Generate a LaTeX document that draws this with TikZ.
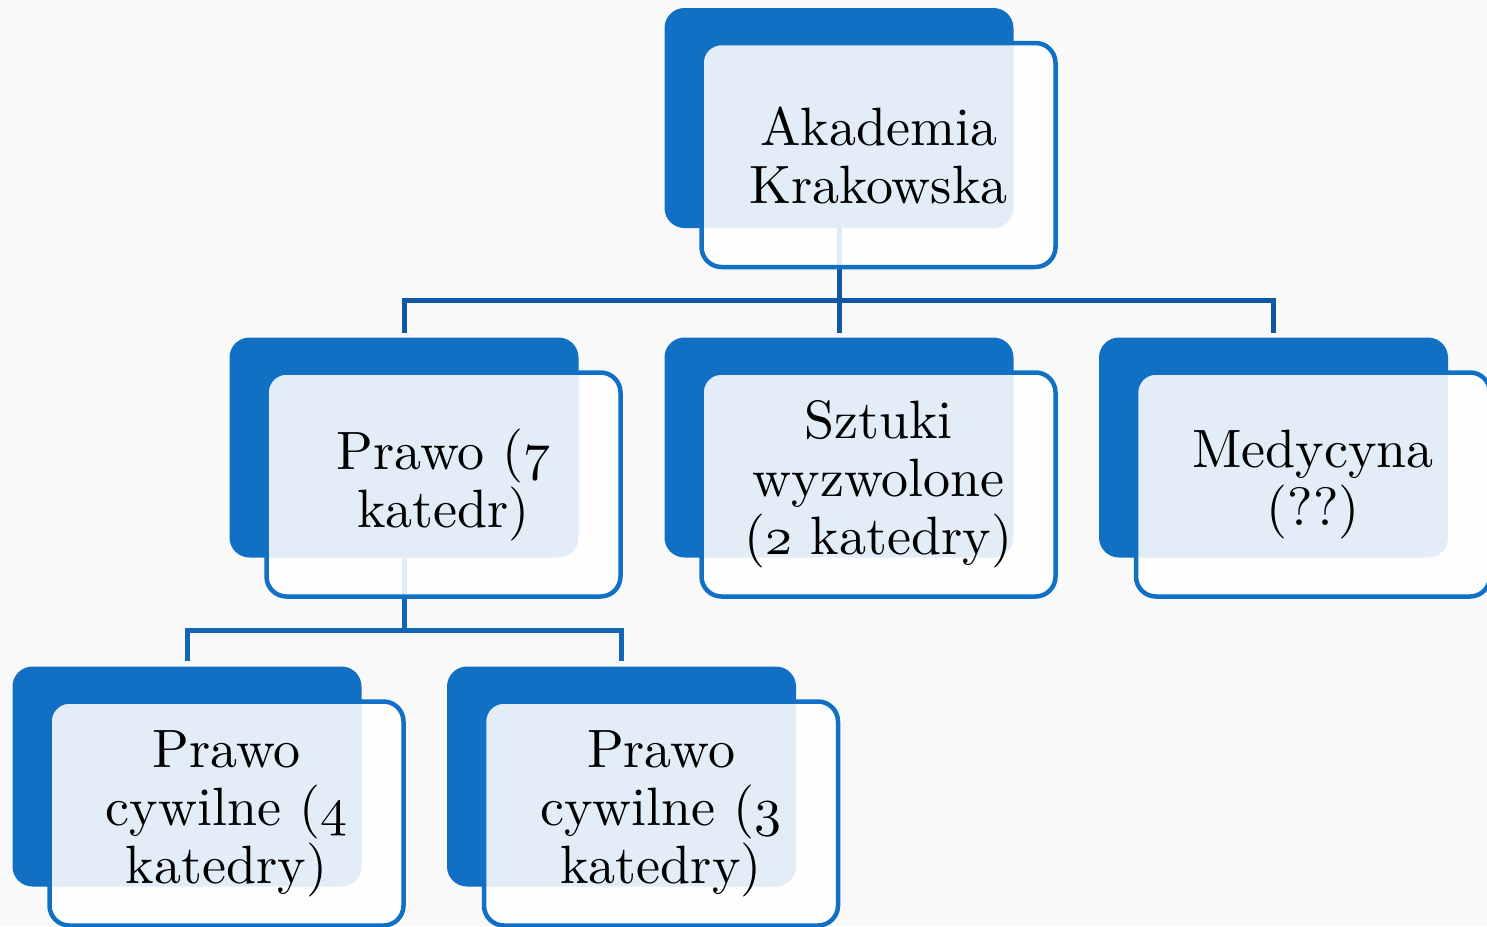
\documentclass[tikz,border=0pt]{standalone}
\usepackage{fontspec}
\newfontfamily\boxfont{lmroman10-regular.otf}
\usetikzlibrary{positioning}
\definecolor{boxblue}{RGB}{17,112,196}
\definecolor{conntop}{RGB}{16,88,164}
\definecolor{connlow}{RGB}{18,102,184}
\definecolor{bgcol}{RGB}{249,249,249}
\tikzset{
  backbox/.style={fill=boxblue, draw=none, rounded corners=20pt, inner sep=0pt, outer sep=0pt,
    minimum width=349pt, minimum height=220pt},
  frontbox/.style={fill=white, fill opacity=0.88, text opacity=1, draw=boxblue, draw opacity=1,
    line width=4.5pt, rounded corners=20pt, inner sep=0pt, outer sep=0pt,
    minimum width=354pt, minimum height=224pt, align=center,
    font=\boxfont\fontsize{54}{58}\selectfont},
  conn/.style={line width=5pt, line join=miter},
}
\font\osnfont=cmmi10 at 54pt
\newcommand{\osn}[1]{{\osnfont #1}}
\begin{document}
\begin{tikzpicture}[x=1pt,y=-1pt]
\fill[bgcol] (0,0) rectangle (1487,926);
\useasboundingbox (0,0) rectangle (1487,926);
% back boxes
\node[backbox] (b1) at (839,118) {};
\node[backbox] (b2) at (404,447.5) {};
\node[backbox] (b3) at (839,447.5) {};
\node[backbox] (b4) at (1273.5,447.5) {};
\node[backbox] (b5) at (187,776.5) {};
\node[backbox] (b6) at (621.5,776.5) {};
% connectors
\coordinate (j1) at (839,300);
\coordinate (j2) at (404,630);
\draw[conntop,conn] (b1.south) -- ([yshift=5pt]b3.north);
\draw[conntop,conn] ([yshift=5pt]b2.north) |- (j1) -| ([yshift=5pt]b4.north);
\draw[connlow,conn] (b2.south) -- (j2);
\draw[connlow,conn] ([yshift=6pt]b5.north) |- (j2) -| ([yshift=6pt]b6.north);
% front boxes with text
\node[frontbox] (f1) at ([xshift=39.5pt,yshift=-37pt]b1.center) {Akademia\\Krakowska};
\node[frontbox] (f2) at ([xshift=39.5pt,yshift=-37pt]b2.center) {Prawo (\osn{7}\\katedr)};
\node[frontbox] (f3) at ([xshift=39.5pt,yshift=-37pt]b3.center) {Sztuki\\wyzwolone\\(\osn{2} katedry)};
\node[frontbox] (f4) at ([xshift=39.5pt,yshift=-37pt]b4.center) {Medycyna\\(??)};
\node[frontbox] (f5) at ([xshift=39.5pt,yshift=-37pt]b5.center) {Prawo\\cywilne (\osn{4}\\katedry)};
\node[frontbox] (f6) at ([xshift=39.5pt,yshift=-37pt]b6.center) {Prawo\\cywilne (\osn{3}\\katedry)};
\end{tikzpicture}
\end{document}
